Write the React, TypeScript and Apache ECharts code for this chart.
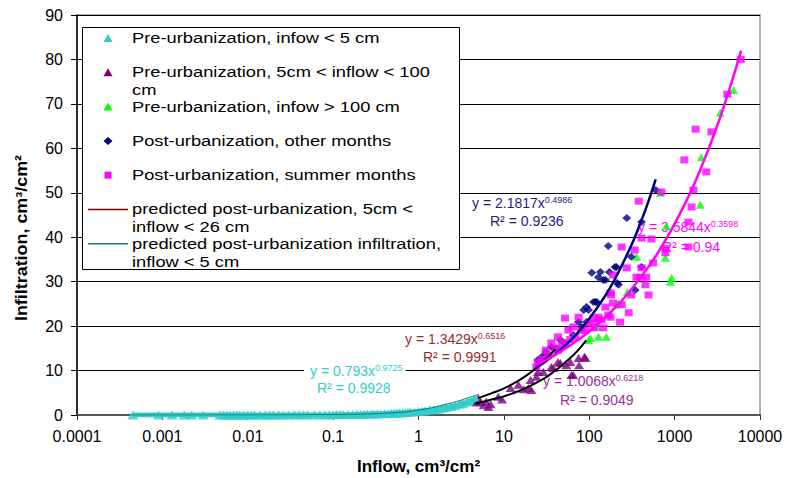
import React, { useEffect, useRef } from "react";
import * as echarts from "echarts";

// ---------- DATA ----------
const xTickLabels = ["0.0001", "0.001", "0.01", "0.1", "1", "10", "100", "1000", "10000"];

const legendNames = [
  "Pre-urbanization, infow < 5 cm",
  "Pre-urbanization, 5cm < inflow < 100\ncm",
  "Pre-urbanization, infow > 100 cm",
  "Post-urbanization, other months",
  "Post-urbanization, summer months",
  "predicted post-urbanization, 5cm <\ninflow < 26 cm",
  "predicted post-urbanization infiltration,\ninflow < 5 cm",
];

const preLow: [number, number][] = [
  [0.00045, 0], [0.0009, 0], [0.0013, 0], [0.0018, 0], [0.0022, 0], [0.003, 0], [0.0047, 0],
  [0.0052, 0], [0.0057, 0], [0.0062, 0], [0.0068, 0], [0.0074, 0.01], [0.008, 0.01], [0.009, 0.01],
  [0.01, 0.01], [0.011, 0.01], [0.012, 0.01], [0.014, 0.01], [0.016, 0.01], [0.018, 0.02],
  [0.02, 0.02], [0.023, 0.02], [0.026, 0.02], [0.03, 0.02], [0.035, 0.03], [0.04, 0.03],
  [0.045, 0.04], [0.05, 0.04], [0.06, 0.05], [0.07, 0.06], [0.08, 0.07], [0.09, 0.07],
  [0.1, 0.08], [0.11, 0.09], [0.12, 0.1], [0.13, 0.1], [0.15, 0.12], [0.17, 0.14], [0.19, 0.15],
  [0.21, 0.17], [0.23, 0.18], [0.25, 0.2], [0.28, 0.22], [0.3, 0.25], [0.33, 0.26], [0.36, 0.3],
  [0.4, 0.32], [0.44, 0.35], [0.48, 0.4], [0.52, 0.42], [0.56, 0.45], [0.6, 0.5], [0.65, 0.52],
  [0.7, 0.56], [0.75, 0.6], [0.8, 0.65], [0.9, 0.7], [1.0, 0.8], [1.1, 0.85], [1.2, 0.95],
  [1.35, 1.1], [1.5, 1.2], [1.7, 1.3], [1.9, 1.5], [2.1, 1.7], [2.4, 1.9], [2.7, 2.1],
  [3.0, 2.4], [3.3, 2.6], [3.7, 2.9], [4.1, 3.2], [4.5, 3.5],
];

const preMid: [number, number][] = [
  [4.8, 2.8], [5.0, 3.8], [5.3, 2.9], [5.8, 2.2], [6.2, 3.0], [6.6, 1.8], [7.0, 2.4], [8.6, 4.1],
  [9.5, 3.5], [12, 6.1], [14.8, 6.8], [17, 5.8], [19.4, 6.1], [20.5, 7.9], [21, 5.6], [24, 8.6],
  [25, 9.7], [29, 9.7], [36, 10.8], [38, 10.6], [43, 11.9], [46, 11.7], [54, 11.2], [60, 11.9],
  [62, 9.0], [65, 9.0], [75, 12.8], [76, 11.2], [88, 13.1], [90, 12.8],
];

const preHigh: [number, number][] = [
  [98, 16.9], [103, 17.3], [122, 19.8], [128, 17.6], [159, 17.6], [208, 24.8], [220, 25.2],
  [280, 27.7], [357, 35.6], [680, 50], [780, 35.4], [800, 42.5], [890, 30], [920, 30.8],
  [2000, 47.3], [2050, 58], [3420, 68], [4900, 73.1],
];

const postOther: [number, number][] = [
  [25, 12.4], [28, 13.1], [29, 12.2], [31, 14.2], [33, 13.6], [36, 15.3], [41, 15.0], [46, 16.9],
  [52, 16.2], [65, 18.0], [75, 20.9], [81, 19.8], [86, 23.6], [93, 20.9], [93, 24.3], [98, 23.6],
  [107, 32.0], [112, 25.4], [118, 25.4], [122, 25.4], [128, 31.0], [135, 32.2], [146, 30.4],
  [155, 30.4], [167, 38.0], [172, 32.2], [200, 33.3], [208, 33.3], [213, 29.7], [220, 29.3],
  [275, 44.3], [310, 35.6], [345, 28.1], [410, 43.4], [410, 33.3], [600, 50.6],
];

const postSummer: [number, number][] = [
  [24, 10.8], [25, 11.9], [28, 12.5], [31, 14.6], [33, 13.5], [36, 16.2], [40, 15], [43, 17.6],
  [43, 14.6], [48, 16], [52, 21.8], [52, 16.2], [57, 19.1], [60, 17], [65, 19.8], [69, 17.6],
  [75, 22.0], [81, 19.1], [90, 19], [98, 20.7], [112, 21.8], [112, 19.6], [118, 20.7], [128, 22.0],
  [140, 21.4], [146, 19.6], [155, 24.3], [167, 22.5], [177, 22.0], [177, 27.5], [180, 27.0],
  [190, 25.2], [190, 31.5], [230, 20.9], [240, 24.8], [240, 37.8], [275, 33.1], [290, 23.0],
  [310, 27.0], [340, 37.1], [357, 31.0], [380, 48.1], [395, 31.0], [410, 39.8], [410, 33.1],
  [455, 29.3], [465, 31.0], [495, 27.0], [535, 39.6], [560, 34.2], [700, 50.2], [780, 37.4],
  [780, 36.5], [1300, 57.4], [1450, 43.4], [1450, 37.8], [1580, 46.8], [1660, 50.6], [1760, 64.3],
  [2350, 54.7], [2700, 63.7], [4140, 72.2], [5950, 80.0],
];

const cyanFit: [number, number][] = [
  [0.00045, 0], [0.001, 0], [0.01, 0.01], [0.1, 0.08], [0.3, 0.25], [0.5, 0.41], [1, 0.79],
  [2, 1.56], [3, 2.32], [4, 3.07], [5, 3.8],
];
const tealPredicted: [number, number][] = [
  [0.00045, 0], [0.01, 0.01], [0.1, 0.1], [0.5, 0.5], [1, 1.1], [2, 2.3], [3, 3.2], [4, 4.0], [5, 4.6],
];
const purpleFit: [number, number][] = [
  [4.65, 2.6], [6, 3.1], [8, 3.7], [10, 4.2], [15, 5.4], [20, 6.5], [30, 8.3], [40, 10.0],
  [50, 11.5], [70, 14.1], [92, 16.8],
];
const redPredicted: [number, number][] = [
  [5, 3.8], [7, 4.8], [10, 6.0], [15, 7.8], [20, 9.4], [26, 11.2], [33, 13.1], [40, 14.8],
];
const navyFit: [number, number][] = [
  [23.5, 10.5], [30, 11.9], [40, 13.7], [50, 15.3], [70, 18.1], [100, 21.7], [150, 26.5],
  [200, 30.6], [300, 37.5], [400, 43.3], [500, 48.4], [600, 53.0],
];
const magentaFit: [number, number][] = [
  [23.5, 11.1], [30, 12.2], [50, 14.7], [100, 18.8], [200, 24.1], [300, 27.9], [500, 33.5],
  [700, 37.8], [1000, 43.0], [1500, 49.7], [2000, 55.2], [3000, 63.9], [4000, 70.9],
  [5000, 76.8], [6000, 82.0],
];

const equations = [
  { eq: "y = 2.1817x", exp: "0.4986", r2: "R² = 0.9236", color: "#1c1c86" },
  { eq: "y = 3.5844x", exp: "0.3598", r2: "R² = 0.94", color: "#ff00ff" },
  { eq: "y = 1.3429x", exp: "0.6516", r2: "R² = 0.9991", color: "#9b2d30" },
  { eq: "y = 0.793x", exp: "0.9725", r2: "R² = 0.9928", color: "#33cccc" },
  { eq: "y = 1.0068x", exp: "0.6218", r2: "R² = 0.9049", color: "#993399" },
];

const xTitle = "Inflow, cm³/cm²";
const yTitle = "Infiltration, cm³/cm²";

const FONT = "'Liberation Sans', Arial, sans-serif";

export default function App() {
  const ref = useRef<HTMLDivElement>(null);

  useEffect(() => {
    document.body.style.margin = "0";
    const chart = echarts.init(ref.current!, null, { renderer: "svg" });

    const legendColors = ["#33CCCC", "#800080", "#00FF00", "#000080", "#FF00FF", "#800000", "#008080"];
    const legendSyms = ["tri", "tri", "tri", "dia", "sq", "line", "line"];
    const legendEls: any[] = [
      {
        type: "rect",
        shape: { x: 82.5, y: 27.5, width: 377, height: 242 },
        style: { fill: "#fff", stroke: "#000", lineWidth: 1 },
        z: 100,
      },
    ];
    legendNames.forEach((name, i) => {
      const y = 38 + i * 34.3;
      const c = legendColors[i];
      const s = legendSyms[i];
      if (s === "tri") {
        legendEls.push({ type: "polygon", shape: { points: [[108, y - 4], [112.5, y + 4], [103.5, y + 4]] }, style: { fill: c }, z: 101 });
      } else if (s === "dia") {
        legendEls.push({ type: "polygon", shape: { points: [[108, y - 4], [112.5, y], [108, y + 4], [103.5, y]] }, style: { fill: c }, z: 101 });
      } else if (s === "sq") {
        legendEls.push({ type: "rect", shape: { x: 104.5, y: y - 3.5, width: 7, height: 7 }, style: { fill: c }, z: 101 });
      } else {
        legendEls.push({ type: "line", shape: { x1: 88, y1: y, x2: 128, y2: y }, style: { stroke: c, lineWidth: 1.5 }, z: 101 });
      }
      legendEls.push({
        type: "text",
        x: 132,
        y: y - 9,
        scaleX: 1.22,
        z: 101,
        style: {
          text: name,
          fill: "#000",
          fontSize: 15,
          fontFamily: FONT,
          lineHeight: 18,
          verticalAlign: "top",
          textAlign: "left",
        },
      });
    });

    const eqPos = [
      [472, 203, 490, 221],
      [638, 227, 662, 247],
      [405, 339, 423, 357],
      [304, 371, 317, 388],
      [543, 381, 560, 400],
    ];
    const eqEls: any[] = [];
    equations.forEach((e, i) => {
      const p = eqPos[i];
      eqEls.push({
        type: "text",
        x: p[0],
        y: p[1],
        z: 1,
        style: {
          text: `{m|${e.eq}}{s|${e.exp}}`,
          fill: e.color,
          verticalAlign: "middle",
          textAlign: "left",
          backgroundColor: i === 3 ? "#fff" : undefined,
          padding: i === 3 ? [0, 3, 0, 6] : 0,
          rich: {
            m: { fontSize: 14, fontFamily: FONT, fill: e.color, lineHeight: 16 },
            s: { fontSize: 9, fontFamily: FONT, fill: e.color, verticalAlign: "top", lineHeight: 10 },
          },
        },
      });
      eqEls.push({
        type: "text",
        x: p[2],
        y: p[3],
        z: 1,
        style: {
          text: e.r2,
          fill: e.color,
          fontSize: 14,
          fontFamily: FONT,
          verticalAlign: "middle",
          textAlign: "left",
        },
      });
    });

    const titleEls: any[] = [
      {
        type: "text",
        x: 22,
        y: 238,
        rotation: Math.PI / 2,
        scaleX: 1.12,
        z: 5,
        style: {
          text: yTitle,
          fill: "#000",
          fontSize: 16,
          fontWeight: "bold",
          fontFamily: FONT,
          textAlign: "center",
          verticalAlign: "middle",
        },
      },
    ];

    const lineSeries = (data: [number, number][], color: string, width: number) => ({
      type: "line",
      data,
      showSymbol: false,
      smooth: true,
      silent: true,
      lineStyle: { color, width },
      itemStyle: { color },
      z: 3,
    });

    chart.setOption({
      animation: false,
      backgroundColor: "#fff",
      textStyle: { fontFamily: FONT },
      grid: {
        left: 77,
        right: 31,
        top: 15,
        bottom: 63,
        outerBoundsMode: "none",
        containLabel: false,
        show: true,
        borderColor: "#999",
        borderWidth: 1.5,
        backgroundColor: "#fff",
      },
      xAxis: {
        type: "log",
        logBase: 10,
        min: 0.0001,
        max: 10000,
        name: xTitle,
        nameLocation: "middle",
        nameGap: 43,
        nameTextStyle: { fontWeight: "bold", fontSize: 17, color: "#000", fontFamily: FONT },
        axisLine: { onZero: false, lineStyle: { color: "#555", width: 2 } },
        axisTick: { show: true, length: 5, lineStyle: { color: "#333" } },
        axisLabel: {
          fontSize: 16,
          color: "#000",
          margin: 13,
          fontFamily: FONT,
          formatter: (v: number) => {
            const e = Math.round(Math.log10(v));
            return xTickLabels[e + 4] ?? "";
          },
        },
        splitLine: { show: false },
        minorTick: { show: false },
      },
      yAxis: {
        type: "value",
        min: 0,
        max: 90,
        interval: 10,
        axisLine: { show: true, lineStyle: { color: "#000", width: 1.5 } },
        axisTick: { show: true, length: 6, lineStyle: { color: "#000" } },
        axisLabel: { fontSize: 16, color: "#000", margin: 14, fontFamily: FONT },
        splitLine: { show: true, lineStyle: { color: "#000", width: 1 } },
      },
      series: [
        { type: "scatter", name: legendNames[0], data: preLow, symbol: "triangle", symbolSize: [11, 9], itemStyle: { color: "#33CCCC" }, silent: true, z: 2 },
        { type: "scatter", name: legendNames[1], data: preMid, symbol: "triangle", symbolSize: [10, 8], itemStyle: { color: "#800080" }, silent: true, z: 2 },
        { type: "scatter", name: legendNames[2], data: preHigh, symbol: "triangle", symbolSize: [9, 8], itemStyle: { color: "#00FF00" }, silent: true, z: 2 },
        { type: "scatter", name: legendNames[3], data: postOther, symbol: "diamond", symbolSize: [9, 8], itemStyle: { color: "#000080" }, silent: true, z: 2 },
        { type: "scatter", name: legendNames[4], data: postSummer, symbol: "rect", symbolSize: [8, 7], itemStyle: { color: "#FF00FF" }, silent: true, z: 2 },
        lineSeries(cyanFit, "#33CCCC", 5),
        lineSeries(tealPredicted, "#008080", 1),
        lineSeries(purpleFit, "#000000", 2),
        lineSeries(redPredicted, "#000000", 2),
        lineSeries(navyFit, "#000080", 2.5),
        lineSeries(magentaFit, "#FF00FF", 2.5),
      ],
      graphic: [...eqEls, ...titleEls, ...legendEls],
    });

    return () => chart.dispose();
  }, []);

  return <div ref={ref} style={{ width: 791, height: 478 }} />;
}
